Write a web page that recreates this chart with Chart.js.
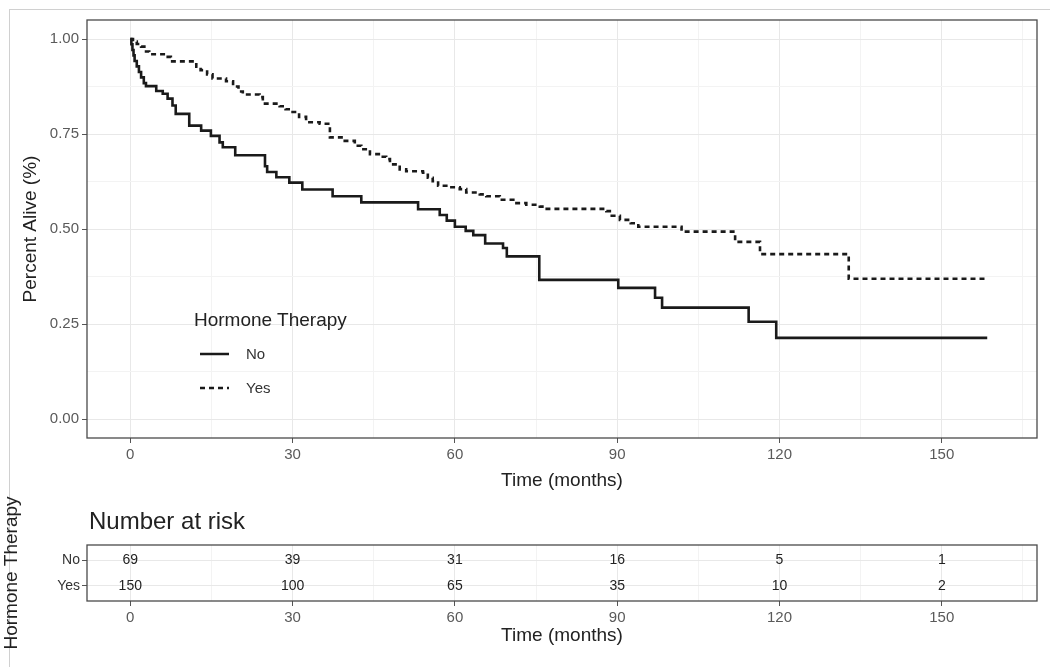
<!DOCTYPE html>
<html>
<head>
<meta charset="utf-8">
<script src="https://cdn.jsdelivr.net/npm/chart.js@4.4.0/dist/chart.umd.min.js"></script>
<style>
  body { margin: 0; background: #fff; width: 1050px; height: 667px; position: relative; overflow: hidden;
         font-family: "Liberation Sans", Arial, sans-serif; }
  #frame { position: absolute; left: 9px; top: 9px; width: 1045px; height: 665px;
           border-left: 1px solid #d0d0d0; border-top: 1px solid #d0d0d0; }
  #survival { position: absolute; left: 0; top: 0; }
  #risk { position: absolute; left: 0; top: 480px; }
  .txt { position: absolute; white-space: nowrap; color: #222; }
  #legendTitle { left: 194px; top: 309px; font-size: 19px; }
  .legItem { font-size: 15px; color: #333; }
  #legSvg { position: absolute; left: 198px; top: 344px; }
  #riskTitle { left: 89px; top: 507px; font-size: 24px; }
</style>
</head>
<body>
<div id="frame"></div>
<canvas id="survival" width="1050" height="500"></canvas>
<canvas id="risk" width="1050" height="182"></canvas>

<div class="txt" id="legendTitle">Hormone Therapy</div>
<svg id="legSvg" width="34" height="56">
  <line x1="2" y1="10" x2="31" y2="10" stroke="#1a1a1a" stroke-width="2.5"/>
  <line x1="2" y1="44" x2="31" y2="44" stroke="#1a1a1a" stroke-width="2.5" stroke-dasharray="5,4"/>
</svg>
<div class="txt legItem" style="left:246px;top:345px">No</div>
<div class="txt legItem" style="left:246px;top:379px">Yes</div>
<div class="txt" id="riskTitle">Number at risk</div>

<script>
// Survival curves: event times in months and survival after each step
const groupNames = ["No", "Yes"];

const timeNo = [0, 0.2, 0.4, 0.6, 0.8, 1.2, 1.6, 2.0, 2.5, 2.9, 4.8, 6.0, 6.9, 7.8, 8.4, 10.9,
  13.1, 14.9, 16.5, 17.1, 19.4, 24.9, 25.3, 27.0, 29.4, 31.8, 37.4, 42.7, 53.2, 57.2, 58.5,
  60.0, 62.0, 63.4, 65.6, 68.9, 69.6, 75.6, 90.2, 97.0, 98.3, 114.3, 119.4, 158.4];
const survNo = [1, 0.986, 0.971, 0.957, 0.942, 0.928, 0.913, 0.899, 0.884, 0.876, 0.863, 0.856, 0.843, 0.825, 0.803, 0.772,
  0.759, 0.745, 0.728, 0.715, 0.694, 0.665, 0.650, 0.636, 0.622, 0.604, 0.586, 0.570, 0.552, 0.537, 0.522,
  0.506, 0.495, 0.484, 0.462, 0.450, 0.428, 0.366, 0.345, 0.319, 0.293, 0.256, 0.2135, 0.2135];

const timeYes = [0, 0.5, 1.2, 2.0, 2.6, 3.5, 6.5, 7.5, 12.2, 13.0, 14.2, 15.2, 17.7, 19.0, 20.0, 20.8,
  23.9, 24.5, 27.6, 28.7, 30.0, 31.2, 32.5, 35.0, 36.9, 39.3, 41.5, 42.7, 44.3, 46.4, 47.3, 48.0,
  49.8, 51.0, 54.1, 55.0, 55.9, 56.9, 59.1, 60.9, 62.1, 64.6, 65.8, 68.3, 70.8, 73.2, 75.7, 76.5,
  88.0, 89.0, 90.5, 92.5, 93.9, 101.9, 111.8, 116.4, 132.8, 158.4];
const survYes = [1, 0.993, 0.987, 0.980, 0.967, 0.960, 0.953, 0.941, 0.927, 0.918, 0.907, 0.896, 0.889, 0.875, 0.862, 0.854,
  0.847, 0.830, 0.823, 0.815, 0.808, 0.795, 0.781, 0.777, 0.741, 0.732, 0.719, 0.710, 0.697, 0.690, 0.684, 0.670,
  0.657, 0.652, 0.648, 0.635, 0.626, 0.614, 0.610, 0.605, 0.596, 0.591, 0.586, 0.577, 0.568, 0.564, 0.559, 0.553,
  0.547, 0.535, 0.524, 0.515, 0.506, 0.493, 0.466, 0.434, 0.369, 0.369];

// Number at risk table
const riskTimes = [0, 30, 60, 90, 120, 150];
const riskNo = [69, 39, 31, 16, 5, 1];
const riskYes = [150, 100, 65, 35, 10, 2];

// Axis ticks
const xTicks = [0, 30, 60, 90, 120, 150];
const yTicks = [0, 0.25, 0.5, 0.75, 1];

const X_MIN = -8, X_MAX = 167.6;
const tickColor = "#5a5a5a";
const majorGrid = "#e8e8e8";
const minorGrid = "#f3f3f3";
const font = "'Liberation Sans', Arial, sans-serif";

// minor breaks halfway between the major ones (as ggplot does)
function withMinor(major, lo, hi) {
  const step = major[1] - major[0];
  const all = [];
  for (let v = major[0] - step / 2; v <= major[major.length - 1] + step; v += step / 2) {
    if (v >= lo && v <= hi) all.push(+v.toFixed(6));
  }
  return all;
}
function isMajor(list, v) {
  return list.some(m => Math.abs(m - v) < 1e-6);
}

// panel border like theme_bw
const panelBorder = {
  id: "panelBorder",
  afterDraw(chart) {
    const a = chart.chartArea, ctx = chart.ctx;
    ctx.save();
    ctx.strokeStyle = "#4a4a4a";
    ctx.lineWidth = 1.3;
    ctx.strokeRect(a.left, a.top, a.right - a.left, a.bottom - a.top);
    ctx.restore();
  }
};

function xScale(titleBottomPad) {
  return {
    type: "linear",
    min: X_MIN,
    max: X_MAX,
    afterBuildTicks: s => { s.ticks = withMinor(xTicks, X_MIN, X_MAX).map(v => ({ value: v })); },
    afterFit: s => { s.height = titleBottomPad.h; },
    ticks: {
      autoSkip: false,
      maxRotation: 0,
      padding: 3,
      color: tickColor,
      font: { family: font, size: 15 },
      callback: v => isMajor(xTicks, v) ? String(v) : ""
    },
    grid: {
      color: c => isMajor(xTicks, c.tick.value) ? majorGrid : minorGrid,
      tickColor: c => isMajor(xTicks, c.tick.value) ? "#555" : "rgba(0,0,0,0)",
      tickLength: 5,
      lineWidth: 1
    },
    border: { display: false },
    title: {
      display: true,
      text: "Time (months)",
      color: "#222",
      font: { family: font, size: 19 },
      padding: { top: 0, bottom: titleBottomPad.p }
    }
  };
}

const toPts = (t, s) => t.map((v, i) => ({ x: v, y: s[i] }));

new Chart(document.getElementById("survival"), {
  type: "line",
  data: {
    datasets: [
      { label: groupNames[0], data: toPts(timeNo, survNo), borderColor: "#1a1a1a", borderWidth: 2.6,
        stepped: "before", pointRadius: 0, fill: false },
      { label: groupNames[1], data: toPts(timeYes, survYes), borderColor: "#1a1a1a", borderWidth: 2.6,
        borderDash: [5, 4], stepped: "before", pointRadius: 0, fill: false }
    ]
  },
  options: {
    responsive: false,
    animation: false,
    layout: { padding: { left: 0, right: 13, top: 20, bottom: 0 } },
    plugins: { legend: { display: false }, tooltip: { enabled: false } },
    scales: {
      x: xScale({ h: 62, p: 8 }),
      y: {
        type: "linear",
        min: -0.05,
        max: 1.05,
        afterBuildTicks: s => { s.ticks = withMinor(yTicks, -0.05, 1.05).map(v => ({ value: v })); },
        afterFit: s => { s.width = 87; },
        ticks: {
          autoSkip: false,
          padding: 3,
          color: tickColor,
          font: { family: font, size: 15 },
          callback: v => isMajor(yTicks, v) ? v.toFixed(2) : ""
        },
        grid: {
          color: c => isMajor(yTicks, c.tick.value) ? majorGrid : minorGrid,
          tickColor: c => isMajor(yTicks, c.tick.value) ? "#555" : "rgba(0,0,0,0)",
          tickLength: 5
        },
        border: { display: false },
        title: {
          display: true,
          text: "Percent Alive (%)",
          color: "#222",
          font: { family: font, size: 19 },
          padding: { top: 19, bottom: 0 }
        }
      }
    }
  },
  plugins: [panelBorder]
});

// numbers at risk written at (time, group) through the scales
const riskText = {
  id: "riskText",
  afterDatasetsDraw(chart) {
    const ctx = chart.ctx;
    ctx.save();
    ctx.fillStyle = "#222";
    ctx.font = "14px " + font;
    ctx.textAlign = "center";
    ctx.textBaseline = "middle";
    chart.data.datasets.forEach((ds, di) => {
      chart.getDatasetMeta(di).data.forEach((pt, i) => {
        ctx.fillText(String(ds.counts[i]), pt.x, pt.y);
      });
    });
    ctx.restore();
  }
};

new Chart(document.getElementById("risk"), {
  type: "scatter",
  data: {
    datasets: [
      { label: groupNames[0], data: riskTimes.map(t => ({ x: t, y: 1 })), counts: riskNo, pointRadius: 0 },
      { label: groupNames[1], data: riskTimes.map(t => ({ x: t, y: 2 })), counts: riskYes, pointRadius: 0 }
    ]
  },
  options: {
    responsive: false,
    animation: false,
    layout: { padding: { left: 0, right: 13, top: 65, bottom: 0 } },
    plugins: { legend: { display: false }, tooltip: { enabled: false } },
    scales: {
      x: xScale({ h: 61, p: 15 }),
      y: {
        type: "linear",
        min: 0.4,
        max: 2.6,
        reverse: true,
        afterBuildTicks: s => { s.ticks = groupNames.map((n, i) => ({ value: i + 1 })); },
        afterFit: s => { s.width = 87; },
        ticks: {
          padding: 2,
          color: "#333",
          font: { family: font, size: 14 },
          callback: v => groupNames[v - 1]
        },
        grid: { color: majorGrid, tickColor: "#555", tickLength: 5 },
        border: { display: false },
        title: {
          display: true,
          text: "Hormone Therapy",
          color: "#222",
          font: { family: font, size: 19 },
          padding: { top: 0, bottom: 0 }
        }
      }
    }
  },
  plugins: [panelBorder, riskText]
});
</script>
</body>
</html>
